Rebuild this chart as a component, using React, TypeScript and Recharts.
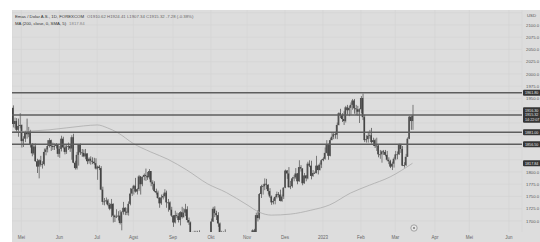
import React from "react";
import {
  ComposedChart, Bar, Line, XAxis, YAxis, CartesianGrid, ReferenceLine
} from "recharts";

type HLC = [number, number, number];

// daily bars as [high, low, close]; the open of a bar is the close before it
const prevClose = 1931;
const apr22: HLC[] = [
  [1936, 1891, 1898], [1911, 1889, 1904], [1910, 1881, 1886], [1909, 1872, 1894], [1920, 1889, 1896],
];
const may22: HLC[] = [
  [1897, 1850, 1863], [1873, 1851, 1868], [1884, 1861, 1881], [1909, 1868, 1877], [1892, 1871, 1883],
  [1886, 1850, 1855], [1859, 1832, 1838], [1858, 1835, 1852], [1858, 1821, 1822], [1827, 1798, 1811],
  [1826, 1787, 1824], [1833, 1811, 1815], [1822, 1807, 1816], [1848, 1813, 1841], [1849, 1834, 1846],
  [1865, 1840, 1853], [1869, 1850, 1865], [1866, 1843, 1853], [1860, 1845, 1851], [1858, 1845, 1853],
  [1859, 1848, 1855], [1856, 1831, 1837],
];
const jun22: HLC[] = [
  [1853, 1829, 1847], [1874, 1842, 1868], [1872, 1848, 1850], [1855, 1836, 1841], [1856, 1837, 1852],
  [1860, 1845, 1853], [1857, 1841, 1848], [1875, 1825, 1871], [1878, 1818, 1819], [1823, 1805, 1808],
  [1841, 1805, 1835], [1857, 1813, 1857], [1858, 1835, 1840], [1847, 1831, 1839], [1846, 1830, 1832],
  [1847, 1826, 1838], [1838, 1816, 1822], [1830, 1817, 1827], [1832, 1815, 1823], [1830, 1816, 1821],
  [1829, 1815, 1818], [1828, 1805, 1807],
];
const jul22: HLC[] = [
  [1813, 1784, 1811], [1814, 1804, 1808], [1812, 1763, 1764], [1770, 1733, 1739], [1747, 1732, 1740],
  [1748, 1735, 1742], [1745, 1730, 1733], [1737, 1722, 1725], [1745, 1708, 1735], [1736, 1697, 1711],
  [1713, 1698, 1708], [1724, 1706, 1709], [1720, 1701, 1711], [1722, 1693, 1696], [1720, 1681, 1718],
  [1739, 1713, 1727], [1728, 1712, 1719], [1727, 1712, 1717], [1740, 1711, 1735], [1767, 1732, 1756],
  [1768, 1751, 1766],
];
const aug22: HLC[] = [
  [1774, 1754, 1772], [1788, 1758, 1760], [1767, 1754, 1765], [1794, 1761, 1791], [1792, 1754, 1775],
  [1791, 1771, 1790], [1797, 1783, 1794], [1807, 1782, 1792], [1800, 1784, 1789], [1806, 1785, 1802],
  [1802, 1771, 1779], [1783, 1764, 1776], [1781, 1759, 1761], [1766, 1754, 1758], [1762, 1745, 1747],
  [1749, 1727, 1736], [1754, 1733, 1748], [1755, 1744, 1751], [1765, 1748, 1758], [1762, 1727, 1738],
  [1745, 1719, 1738], [1740, 1722, 1723], [1729, 1708, 1711],
];
const sep22: HLC[] = [
  [1712, 1688, 1697], [1721, 1695, 1712], [1717, 1706, 1710], [1716, 1697, 1702], [1720, 1691, 1718],
  [1729, 1705, 1708], [1726, 1707, 1717], [1735, 1710, 1724], [1730, 1697, 1702], [1707, 1692, 1697],
  [1699, 1659, 1665], [1678, 1655, 1675], [1680, 1662, 1676], [1680, 1659, 1664], [1680, 1654, 1673],
  [1681, 1661, 1671], [1675, 1639, 1643], [1647, 1620, 1622], [1641, 1621, 1629], [1663, 1615, 1660],
  [1673, 1641, 1660], [1675, 1652, 1661],
];
const oct22: HLC[] = [
  [1705, 1659, 1699], [1729, 1698, 1725], [1730, 1708, 1716], [1721, 1702, 1712], [1718, 1688, 1695],
  [1697, 1666, 1668], [1680, 1658, 1666], [1679, 1661, 1673], [1683, 1642, 1666], [1672, 1640, 1644],
  [1668, 1641, 1650], [1660, 1646, 1652], [1656, 1626, 1629], [1645, 1618, 1627], [1662, 1617, 1656],
  [1675, 1638, 1649], [1657, 1640, 1652], [1670, 1647, 1665], [1669, 1657, 1663], [1665, 1640, 1644],
  [1649, 1632, 1633],
];
const nov22: HLC[] = [
  [1656, 1631, 1647], [1669, 1635, 1636], [1642, 1616, 1629], [1683, 1628, 1681], [1684, 1664, 1676],
  [1717, 1673, 1712], [1722, 1699, 1706], [1757, 1703, 1755], [1774, 1747, 1771], [1775, 1754, 1771],
  [1787, 1763, 1776], [1786, 1765, 1774], [1775, 1754, 1761], [1767, 1747, 1750], [1752, 1733, 1738],
  [1746, 1734, 1741], [1751, 1734, 1749], [1760, 1746, 1755], [1759, 1748, 1754], [1764, 1740, 1741],
  [1754, 1739, 1750], [1769, 1745, 1768],
];
const dec22: HLC[] = [
  [1805, 1767, 1803], [1804, 1786, 1797], [1810, 1768, 1769], [1782, 1765, 1771], [1790, 1768, 1787],
  [1794, 1781, 1789], [1808, 1786, 1797], [1798, 1775, 1781], [1824, 1780, 1810], [1814, 1801, 1807],
  [1808, 1773, 1777], [1798, 1776, 1793], [1794, 1781, 1787], [1821, 1785, 1817], [1824, 1810, 1813],
  [1823, 1785, 1792], [1804, 1790, 1798], [1801, 1796, 1798], [1833, 1797, 1813], [1815, 1795, 1804],
  [1819, 1803, 1815], [1826, 1808, 1824],
];
const jan23: HLC[] = [
  [1830, 1822, 1827], [1850, 1825, 1839], [1865, 1838, 1855], [1858, 1825, 1833], [1869, 1832, 1865],
  [1881, 1865, 1872], [1880, 1867, 1877], [1882, 1868, 1876], [1901, 1867, 1896], [1922, 1895, 1920],
  [1929, 1910, 1916], [1920, 1902, 1908], [1924, 1896, 1904], [1935, 1901, 1932], [1937, 1917, 1926],
  [1935, 1914, 1931], [1942, 1917, 1937], [1949, 1927, 1946], [1949, 1919, 1930], [1937, 1916, 1928],
  [1935, 1915, 1923], [1930, 1900, 1928],
];
const feb23: HLC[] = [
  [1955, 1920, 1951], [1960, 1906, 1912], [1917, 1861, 1865], [1875, 1860, 1867], [1882, 1860, 1874],
  [1886, 1868, 1875], [1890, 1858, 1861], [1870, 1853, 1865], [1868, 1849, 1853], [1870, 1843, 1854],
  [1857, 1830, 1836], [1845, 1827, 1836], [1844, 1819, 1842], [1845, 1835, 1841], [1845, 1832, 1835],
  [1843, 1822, 1825], [1830, 1816, 1822], [1825, 1808, 1811], [1821, 1804, 1817], [1830, 1809, 1827],
];
const mar23: HLC[] = [
  [1843, 1824, 1836], [1842, 1826, 1836], [1858, 1835, 1855], [1858, 1839, 1847], [1853, 1812, 1813],
  [1820, 1809, 1814], [1837, 1812, 1831], [1871, 1831, 1868], [1914, 1867, 1913], [1914, 1886, 1904],
  [1937, 1886, 1915.32],
];
const months = [apr22, may22, jun22, jul22, aug22, sep22, oct22, nov22, dec22, jan23, feb23, mar23];
const firstBar = -5; // bar 0 = first trading day of May 2022

// time scale (bar index of each month start)
const monthTicks = [0, 22, 44, 65, 88, 110, 131, 153, 175, 197, 217, 240, 260, 283];
const monthLabels = ["Mei", "Jun", "Jul", "Agst", "Sep", "Okt", "Nov", "Des", "2023", "Feb", "Mar", "Apr", "Mei", "Jun"];

const priceTicks = [1700, 1725, 1750, 1775, 1800, 1950, 1975, 2000, 2025, 2050, 2075, 2100];
const gridPrices = [1700, 1725, 1750, 1775, 1800, 1825, 1850, 1875, 1900, 1925, 1950, 1975, 2000, 2025, 2050, 2075, 2100, 2125];

// drawn horizontal levels
const levels = [1961.8, 1916.3, 1881.0, 1856.5];
const levelTags = [["1961.80"], ["1916.30", "1915.32", "14:22:07"], ["1881.00"], ["1856.50"]];

// MA 200 read at a few bars
const maBars = [-5, 16, 36, 44, 50, 56, 65, 75, 85, 96, 108, 119, 131, 138, 145, 156, 168, 179, 191, 202, 214, 227];
const maValues = [1882, 1886, 1894, 1896, 1890, 1880, 1858, 1841, 1826, 1804, 1776, 1758, 1733, 1718, 1712, 1714, 1722, 1733, 1757, 1773, 1790, 1817.84];

const xDomain: [number, number] = [-5.46, 290.55];
const yDomain: [number, number] = [1677.55, 2130.6];

const rows: any[] = [];
let open = prevClose;
let bar = firstBar;
for (const m of months) {
  for (const [h, l, c] of m) {
    rows.push({ i: bar, o: open, h, l, c, wick: [l, h], body: [Math.min(open, c), Math.max(open, c)], up: c >= open });
    open = c;
    bar++;
  }
}
maBars.forEach((b, k) => {
  const r = rows.find((r) => r.i === b);
  if (r) r.ma = maValues[k];
});

const FONT = "'Liberation Sans', Arial, sans-serif";

const Candle = (p: any) => {
  if (p.payload.h < yDomain[0] || !isFinite(p.height)) return null;
  const top = Math.min(p.y, p.y + p.height);
  const h = Math.max(Math.abs(p.height), 0.8);
  return <rect x={p.x} y={top} width={p.width} height={h} fill={p.payload.up ? "#505050" : "#444444"} />;
};

const Tag = ({ viewBox, rows: lines }: any) => {
  if (!viewBox) return null;
  const step = 4.7;
  const h = lines.length * step + 1.2;
  const x = viewBox.x + viewBox.width + 1;
  const y0 = viewBox.y - h / 2;
  return (
    <g>
      <rect x={x} y={y0} width={22} height={h} rx={1} fill="#353535" />
      {lines.map((t: string, k: number) => (
        <text key={k} x={x + 2} y={y0 + 4.2 + k * step} fontSize={3.7} fill="#e8e8e8" fontFamily={FONT}>{t}</text>
      ))}
    </g>
  );
};

export default function App() {
  return (
    <div style={{ position: "absolute", left: 0, top: 0, width: 540, height: 242, background: "#ffffff", overflow: "hidden", fontFamily: FONT }}>
      <div style={{ position: "absolute", left: 12, top: 10, width: 528, height: 232, background: "#dddddd" }}>
        <ComposedChart width={528} height={232} data={rows} margin={{ top: 0, right: 0, bottom: 0, left: 0 }}>
          <CartesianGrid stroke="#d3d3d3" strokeWidth={0.6} horizontalValues={gridPrices} />
          <XAxis
            dataKey="i"
            type="number"
            domain={xDomain}
            allowDataOverflow
            ticks={monthTicks}
            interval={0}
            tickFormatter={(v: number) => monthLabels[monthTicks.indexOf(v)]}
            tick={{ fill: "#666", fontSize: 4.5, fontFamily: FONT }}
            tickLine={false}
            axisLine={false}
            tickSize={0}
            tickMargin={4}
            height={10}
          />
          <XAxis xAxisId="w" dataKey="i" type="number" domain={xDomain} allowDataOverflow hide />
          <YAxis
            orientation="right"
            type="number"
            domain={yDomain}
            allowDataOverflow
            ticks={priceTicks}
            interval={0}
            tickFormatter={(v: number) => v.toFixed(1)}
            tick={{ fill: "#555", fontSize: 4.3, fontFamily: FONT, textAnchor: "start" }}
            tickLine={false}
            axisLine={false}
            tickSize={0}
            tickMargin={4}
            width={18}
          />
          <Line
            dataKey="ma"
            type="monotone"
            connectNulls
            stroke="#acacac"
            strokeWidth={0.8}
            dot={false}
            activeDot={false}
            isAnimationActive={false}
          />
          <Bar xAxisId="w" dataKey="wick" barSize={0.7} shape={Candle} isAnimationActive={false} />
          <Bar dataKey="body" barSize={1.6} shape={Candle} isAnimationActive={false} />
          {levels.map((v, k) => (
            <ReferenceLine key={v} y={v} stroke="#5e5e5e" strokeWidth={1.5} label={<Tag rows={levelTags[k]} />} />
          ))}
          <ReferenceLine y={maValues[maValues.length - 1]} stroke="none" label={<Tag rows={[maValues[maValues.length - 1].toFixed(2)]} />} />
        </ComposedChart>
      </div>
      <div style={{ position: "absolute", left: 15, top: 12.5, fontSize: 4.3, lineHeight: "7.5px", color: "#444", whiteSpace: "nowrap" }}>
        <div>
          <span style={{ color: "#333" }}>Emas / Dolar A.S., 1D, FOREXCOM</span>
          <span style={{ color: "#666", marginLeft: 3 }}>O1910.62 H1924.41 L1907.34 C1915.32 -7.28 (-0.38%)</span>
        </div>
        <div>
          <span style={{ color: "#333" }}>MA (200, close, 0, SMA, 5)</span>
          <span style={{ color: "#888", marginLeft: 3 }}>1817.84</span>
        </div>
      </div>
      <div style={{ position: "absolute", left: 527, top: 12.5, fontSize: 4.3, color: "#555" }}>USD</div>
      <svg style={{ position: "absolute", left: 410, top: 224 }} width={8} height={8}>
        <circle cx={4} cy={4} r={3.2} fill="#e6e6e6" stroke="#7a7a7a" strokeWidth={0.6} />
        <circle cx={4} cy={4} r={1} fill="#7a7a7a" />
      </svg>
    </div>
  );
}
